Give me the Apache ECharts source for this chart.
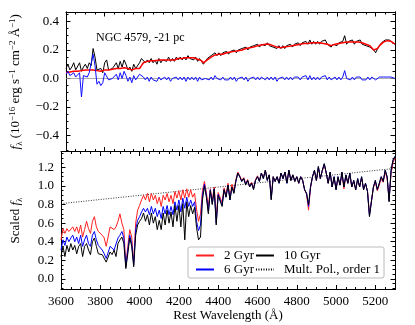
<!DOCTYPE html>
<html>
<head>
<meta charset="utf-8">
<script src="https://cdn.jsdelivr.net/npm/echarts@6/dist/echarts.min.js"></script>
<style>
  html, body { margin: 0; padding: 0; background: #fff; }
  #chart { width: 415px; height: 325px; }
</style>
</head>
<body>
<div id="chart"></div>
<script>
// wavelength sampling: 3600..5300 A, every 10 A
var waveStart = 3600
var waveStep = 10

// top panel: observed spectrum, model fit, residual (1e-16 erg/s/cm2/A)
var topObs = [
  0.07,0.10,0.06,0.08,0.11,0.06,0.07,0.11,0.05,0.08,0.10,
  0.07,0.11,0.09,0.21,0.15,0.06,0.05,0.07,0.04,0.11,
  0.13,0.06,0.05,0.07,0.08,0.11,0.07,0.12,0.08,0.13,
  0.10,0.06,0.08,0.05,0.10,0.07,0.06,0.11,0.14,0.13,
  0.11,0.13,0.11,0.14,0.11,0.13,0.10,0.14,0.11,0.13,
  0.14,0.12,0.15,0.12,0.14,0.12,0.15,0.13,0.15,0.13,
  0.15,0.13,0.16,0.14,0.15,0.13,0.15,0.12,0.14,0.12,
  0.10,0.12,0.14,0.13,0.16,0.15,0.18,0.16,0.18,0.16,
  0.18,0.17,0.19,0.17,0.19,0.18,0.20,0.18,0.20,0.19,
  0.21,0.20,0.22,0.20,0.22,0.21,0.23,0.22,0.24,0.22,
  0.24,0.25,0.23,0.25,0.23,0.24,0.22,0.23,0.21,0.23,
  0.21,0.23,0.21,0.23,0.22,0.24,0.22,0.24,0.23,0.25,
  0.23,0.25,0.24,0.26,0.24,0.27,0.24,0.26,0.24,0.26,
  0.24,0.26,0.25,0.27,0.24,0.25,0.22,0.24,0.25,0.23,
  0.25,0.24,0.26,0.30,0.24,0.26,0.25,0.27,0.24,0.26,
  0.25,0.27,0.24,0.25,0.23,0.24,0.22,0.23,0.20,0.18,
  0.21,0.23,0.25,0.26,0.27,0.28,0.27,0.26,0.25,0.24
]
var topFit = [
  0.04,0.04,0.045,0.05,0.05,0.05,0.05,0.055,0.055,0.06,0.06,
  0.06,0.06,0.06,0.06,0.06,0.055,0.055,0.05,0.055,0.06,
  0.06,0.06,0.065,0.065,0.07,0.07,0.07,0.07,0.07,0.075,
  0.07,0.07,0.065,0.06,0.065,0.07,0.06,0.07,0.09,0.11,
  0.115,0.12,0.12,0.125,0.12,0.125,0.125,0.13,0.125,0.13,
  0.13,0.13,0.135,0.13,0.135,0.13,0.135,0.14,0.135,0.14,
  0.14,0.145,0.15,0.145,0.14,0.145,0.14,0.135,0.13,0.125,
  0.11,0.115,0.13,0.14,0.15,0.16,0.165,0.165,0.17,0.17,
  0.17,0.175,0.18,0.18,0.185,0.185,0.19,0.19,0.195,0.2,
  0.2,0.205,0.21,0.21,0.215,0.22,0.22,0.225,0.23,0.23,
  0.235,0.235,0.24,0.24,0.24,0.235,0.23,0.225,0.22,0.22,
  0.215,0.215,0.22,0.22,0.225,0.225,0.23,0.23,0.235,0.24,
  0.24,0.24,0.245,0.245,0.245,0.25,0.25,0.25,0.25,0.25,
  0.25,0.25,0.245,0.245,0.24,0.235,0.23,0.235,0.24,0.245,
  0.245,0.25,0.25,0.255,0.255,0.255,0.255,0.255,0.255,0.255,
  0.255,0.25,0.25,0.245,0.24,0.235,0.23,0.22,0.2,0.19,
  0.21,0.23,0.24,0.255,0.26,0.265,0.27,0.26,0.25,0.24
]
var topResid = [
  0.03,0.05,0.02,0.03,0.04,0.01,0.02,0.04,-0.13,0.02,0.03,
  0.01,0.04,0.03,0.17,0.09,-0.04,-0.02,-0.05,-0.03,0.04,
  0.05,-0.01,-0.02,0.00,0.01,0.03,-0.01,0.04,0.00,0.05,
  0.02,-0.02,0.01,-0.03,0.02,-0.01,-0.02,0.03,0.03,0.01,
  -0.01,0.01,-0.02,0.01,-0.01,0.00,-0.02,0.01,-0.01,0.00,
  0.01,-0.01,0.01,-0.02,0.00,-0.01,0.01,-0.01,0.01,-0.01,
  0.01,-0.02,0.01,-0.01,0.01,-0.01,0.01,-0.02,0.01,-0.01,
  -0.02,0.00,0.01,-0.01,0.01,-0.01,0.02,0.00,0.01,-0.01,
  0.01,-0.01,0.00,-0.01,0.01,-0.01,0.01,-0.02,0.00,-0.01,
  0.01,-0.01,0.01,-0.02,0.00,-0.01,0.01,-0.01,0.01,-0.01,
  0.01,0.02,-0.01,0.01,-0.01,0.01,-0.01,0.01,-0.02,0.00,
  -0.01,0.01,-0.01,0.01,-0.01,0.01,-0.01,0.01,0.00,0.01,
  -0.01,0.01,0.00,0.02,-0.01,0.02,-0.01,0.01,-0.01,0.01,
  -0.01,0.01,0.00,0.02,-0.01,0.01,-0.01,0.00,0.01,-0.01,
  0.01,-0.01,0.01,0.055,0.00,0.01,-0.01,0.01,-0.01,0.01,
  0.00,0.01,-0.01,0.00,-0.01,0.01,-0.01,0.01,0.02,-0.01,
  0.00,0.01,0.02,0.01,0.00,0.01,0.02,0.01,0.00,0.00
]
// zero reference line of the residual panel
var zeroX = [3600, 5300]
var zeroY = [0, 0]

// bottom panel: scaled SSP models
var ssp2 = [
  0.42,0.54,0.49,0.54,0.51,0.53,0.56,0.51,0.56,0.49,0.58,
  0.45,0.53,0.62,0.54,0.49,0.62,0.67,0.56,0.51,0.53,
  0.47,0.44,0.35,0.33,0.56,0.58,0.53,0.56,0.62,0.70,
  0.60,0.53,0.15,0.35,0.53,0.45,0.17,0.60,0.74,0.79,
  0.85,0.90,0.85,0.92,0.83,0.92,0.85,0.90,0.81,0.88,
  0.78,0.90,0.85,0.92,0.83,0.90,0.81,0.94,0.87,0.95,
  0.85,0.96,0.87,0.97,0.88,0.96,0.88,0.92,0.75,0.62,
  0.70,0.95,1.05,0.93,0.78,0.97,0.84,0.99,0.66,0.93,
  0.92,0.82,0.98,0.90,1.03,0.87,1.02,0.95,1.07,1.15,
  1.11,1.06,1.09,1.03,1.07,1.00,1.04,0.98,1.07,1.11,
  1.06,1.14,1.09,1.17,1.07,1.12,0.88,1.10,1.05,1.10,
  1.04,1.14,1.08,1.15,1.04,1.17,1.06,1.12,1.05,1.10,
  1.03,1.10,1.06,0.96,0.91,0.74,0.98,1.10,1.16,1.06,
  1.20,1.08,1.16,1.23,1.14,1.03,1.14,0.99,1.09,0.97,
  1.09,1.01,1.13,0.97,1.11,1.03,1.13,0.99,1.05,0.96,
  1.07,0.99,1.09,0.97,1.02,0.95,0.70,0.72,0.98,1.04,
  0.95,1.01,1.08,1.04,1.15,1.08,0.86,1.14,1.25,1.30
]
var ssp6 = [
  0.31,0.42,0.36,0.45,0.40,0.44,0.47,0.40,0.45,0.38,0.47,
  0.35,0.42,0.47,0.38,0.35,0.47,0.51,0.42,0.36,0.36,
  0.31,0.27,0.22,0.22,0.35,0.33,0.31,0.31,0.44,0.47,
  0.51,0.44,0.13,0.31,0.47,0.38,0.15,0.53,0.63,0.67,
  0.72,0.76,0.72,0.76,0.69,0.78,0.70,0.76,0.67,0.74,
  0.65,0.78,0.70,0.79,0.69,0.78,0.69,0.83,0.74,0.85,
  0.72,0.87,0.76,0.88,0.78,0.85,0.78,0.83,0.62,0.52,
  0.58,0.90,1.02,0.90,0.72,0.96,0.81,0.97,0.60,0.91,
  0.90,0.79,0.96,0.88,1.01,0.85,0.99,0.93,1.05,1.14,
  1.10,1.05,1.08,1.02,1.06,0.99,1.03,0.97,1.06,1.10,
  1.05,1.14,1.08,1.17,1.06,1.12,0.86,1.10,1.05,1.10,
  1.03,1.14,1.08,1.15,1.03,1.17,1.06,1.12,1.05,1.10,
  1.03,1.10,1.06,0.96,0.92,0.78,0.99,1.10,1.17,1.06,
  1.21,1.08,1.17,1.24,1.14,1.03,1.15,0.99,1.10,0.96,
  1.10,1.01,1.15,0.99,1.12,1.03,1.14,0.99,1.06,0.96,
  1.08,0.99,1.10,0.96,1.03,0.94,0.68,0.70,0.99,1.06,
  0.96,1.03,1.10,1.05,1.17,1.10,0.84,1.17,1.28,1.32
]
var ssp10 = [
  0.24,0.35,0.24,0.36,0.29,0.38,0.31,0.36,0.27,0.35,0.38,
  0.24,0.35,0.38,0.31,0.26,0.40,0.44,0.35,0.27,0.29,
  0.26,0.24,0.18,0.18,0.29,0.26,0.31,0.24,0.38,0.42,
  0.45,0.38,0.11,0.27,0.44,0.35,0.13,0.47,0.58,0.62,
  0.65,0.71,0.62,0.69,0.58,0.71,0.60,0.67,0.53,0.63,
  0.53,0.71,0.58,0.74,0.60,0.72,0.56,0.79,0.62,0.79,
  0.56,0.81,0.42,0.83,0.67,0.79,0.70,0.77,0.55,0.42,
  0.45,0.85,1.00,0.88,0.70,0.95,0.80,0.97,0.58,0.90,
  0.90,0.78,0.96,0.88,1.01,0.85,0.99,0.92,1.05,1.14,
  1.10,1.05,1.08,1.01,1.06,0.99,1.03,0.96,1.06,1.10,
  1.05,1.14,1.08,1.17,1.06,1.12,0.85,1.10,1.05,1.10,
  1.03,1.14,1.08,1.15,1.03,1.17,1.06,1.12,1.05,1.10,
  1.03,1.10,1.06,0.96,0.92,0.80,0.99,1.10,1.17,1.06,
  1.21,1.08,1.17,1.24,1.14,1.03,1.15,0.99,1.10,0.96,
  1.10,1.01,1.15,0.99,1.12,1.03,1.14,0.99,1.06,0.96,
  1.08,0.99,1.10,0.96,1.03,0.94,0.67,0.69,0.99,1.06,
  0.96,1.03,1.10,1.05,1.17,1.10,0.83,1.17,1.28,1.32
]
// multiplicative polynomial, order 1 (end points)
var polyX = [3600, 5300]
var polyY = [0.81, 1.19]

var topYTicks = [-0.4, -0.2, 0, 0.2, 0.4]
var botYTicks = [0, 0.2, 0.4, 0.6, 0.8, 1.0, 1.2]
var topRange = [-0.512, 0.466]
var botRange = [-0.115, 1.372]

var FONT = 'Liberation Serif'

function pairs(ys) {
  return ys.map(function (v, i) { return [waveStart + i * waveStep, v] })
}

function zip(xs, ys) {
  return xs.map(function (x, i) { return [x, ys[i]] })
}

function minorTicks(lo, hi, step) {
  var out = []
  for (var v = Math.ceil(lo / step) * step; v <= hi + 1e-9; v += step) out.push(+v.toFixed(3))
  return out
}

function fmtY(v) {
  return (v < -1e-9 ? '\u2212' : '') + Math.abs(v).toFixed(1)
}

function xAxisFor(grid, pos, labels) {
  return {
    type: 'value', gridIndex: grid, position: pos,
    min: 3600, max: 5300, interval: 200,
    axisLine: { show: true, onZero: false, lineStyle: { color: '#000', width: 1 } },
    axisTick: { show: true, inside: true, length: 4.5, lineStyle: { color: '#000' } },
    minorTick: { show: true, splitNumber: 4, length: 2.5, lineStyle: { color: '#000' } },
    axisLabel: {
      show: labels, color: '#000', fontFamily: FONT, fontSize: 13, margin: 6,
      formatter: function (v) { return String(v) }
    },
    splitLine: { show: false },
    name: labels ? 'Rest Wavelength (\u00c5)' : '',
    nameLocation: 'middle', nameGap: 20,
    nameTextStyle: { color: '#000', fontFamily: FONT, fontSize: 13 }
  }
}

function yAxesFor(grid, range, majors, name, gap) {
  var minors = minorTicks(range[0], range[1], 0.05)
  function base(pos, ticks, len, extra) {
    var a = {
      type: 'value', gridIndex: grid, position: pos, min: range[0], max: range[1],
      splitLine: { show: false },
      axisLine: { show: true, onZero: false, lineStyle: { color: '#000', width: 1 } },
      axisTick: { show: true, inside: true, length: len, customValues: ticks, lineStyle: { color: '#000' } },
      axisLabel: { show: false }
    }
    return Object.assign(a, extra || {})
  }
  return [
    base('left', majors, 4.5, {
      axisLabel: { show: true, customValues: majors, formatter: fmtY, color: '#000', fontFamily: FONT, fontSize: 13, margin: 7 },
      name: name, nameLocation: 'middle', nameGap: gap,
      nameTextStyle: {
        color: '#000', fontFamily: FONT, fontSize: 13, lineHeight: 16,
        rich: {
          i: { fontFamily: FONT, fontStyle: 'italic', fontSize: 13, color: '#000' },
          sub: { fontFamily: FONT, fontSize: 9, lineHeight: 9, verticalAlign: 'bottom', color: '#000' },
          sup: { fontFamily: FONT, fontSize: 9, lineHeight: 9, verticalAlign: 'top', color: '#000' }
        }
      }
    }),
    base('left', minors, 2.5),
    base('right', majors, 4.5),
    base('right', minors, 2.5)
  ]
}

var chart = echarts.init(document.getElementById('chart'))

var topName = '{i|f}{sub|\u03bb} (10{sup|\u221216} erg s{sup|\u22121} cm{sup|\u22122} \u00c5{sup|\u22121})'
var botName = 'Scaled {i|f}{sub|\u03bb}'

function line(name, xi, yi, data, color, width, extra) {
  return Object.assign({
    type: 'line', name: name, xAxisIndex: xi, yAxisIndex: yi, data: data,
    showSymbol: false, symbol: 'none', animation: false,
    lineStyle: { color: color, width: width }, itemStyle: { color: color }
  }, extra || {})
}

chart.setOption({
  animation: false,
  backgroundColor: '#fff',
  grid: [
    { left: 54, top: 12, width: 341, height: 139.5 },
    { left: 54, top: 151.5, width: 341, height: 138 }
  ],
  xAxis: [
    xAxisFor(0, 'bottom', false),
    xAxisFor(0, 'top', false),
    xAxisFor(1, 'bottom', true),
    xAxisFor(1, 'top', false)
  ],
  yAxis: yAxesFor(0, topRange, topYTicks, topName, 42)
    .concat(yAxesFor(1, botRange, botYTicks, botName, 37)),
  legend: {
    data: ['2 Gyr', '6 Gyr', '10 Gyr', 'Mult. Pol., order 1'],
    orient: 'vertical', left: 188, top: 247, height: 33,
    itemWidth: 18, itemHeight: 16, itemGap: 1,
    padding: [2, 4, 2, 7],
    itemStyle: { color: 'rgba(0,0,0,0)', borderColor: 'rgba(0,0,0,0)', borderWidth: 0 },
    backgroundColor: '#fff', borderColor: '#bbb', borderWidth: 1, borderRadius: 2,
    textStyle: { fontFamily: FONT, fontSize: 13, color: '#000', padding: [0, 0, 0, 5] }
  },
  graphic: [{
    type: 'text', left: 96, top: 32,
    style: { text: 'NGC 4579, -21 pc', font: '12px "Liberation Serif"', fill: '#000' }
  }],
  series: [
    line('zero', 0, 0, zip(zeroX, zeroY), '#999999', 0.8),
    line('obs', 0, 0, pairs(topObs), '#000', 1),
    line('fit', 0, 0, pairs(topFit), '#ff0000', 1.5),
    line('resid', 0, 0, pairs(topResid), '#1010ff', 1),
    line('Mult. Pol., order 1', 2, 4, zip(polyX, polyY), '#000', 0.8, {
      lineStyle: { color: '#000', width: 0.8, type: [1, 1.5] }
    }),
    line('2 Gyr', 2, 4, pairs(ssp2), '#ff2020', 1),
    line('6 Gyr', 2, 4, pairs(ssp6), '#0000ff', 1),
    line('10 Gyr', 2, 4, pairs(ssp10), '#000', 1)
  ]
})
</script>
</body>
</html>
